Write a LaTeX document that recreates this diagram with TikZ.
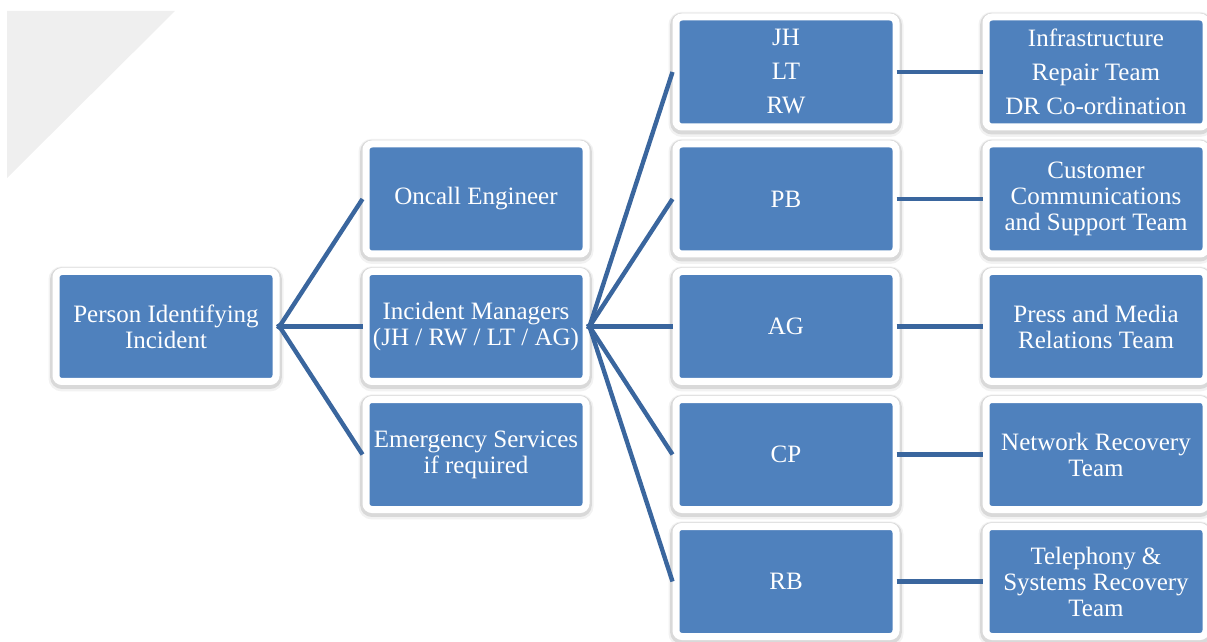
\documentclass[tikz,border=0pt]{standalone}
\usepackage{fontspec}
\setmainfont{Liberation Serif}
\definecolor{boxblue}{RGB}{79,129,189}
\definecolor{linkblue}{RGB}{58,102,158}
\definecolor{cornergray}{RGB}{239,239,239}
\begin{document}
\begin{tikzpicture}[x=0.5pt, y=-0.5pt,
  box/.style={draw=white, line width=3.5pt, fill=boxblue, rounded corners=3pt,
    minimum width=110pt, minimum height=55pt, inner sep=1pt, align=center,
    text=white, font=\fontsize{12.5}{13}\selectfont,
    preaction={draw=black, draw opacity=0.05, line width=7.5pt, transform canvas={yshift=-1.2pt}},
    preaction={draw=black, draw opacity=0.10, line width=5.8pt, transform canvas={yshift=-0.8pt}}},
  tallbox/.style={box, font=\fontsize{12.5}{17}\selectfont},
  link/.style={draw=linkblue, line width=2.2pt, shorten <=-1.5pt}]
\useasboundingbox (0,0) rectangle (1207,642);
\fill[cornergray] (7,11) -- (175,11) -- (7,178) -- cycle;
% first and second column
\node[box] (person) at (166,326.5) {Person Identifying\\Incident};
\node[box] (oncall) at (476,199) {Oncall Engineer};
\node[box] (managers) at (476,326.5) {Incident Managers\\(JH / RW / LT / AG)};
\node[box] (emergency) at (476,454.5) {Emergency Services\\if required};
% managers
\node[tallbox] (jh) at (786,72) {JH\\LT\\RW};
\node[box] (pb) at (786,199) {PB};
\node[box] (ag) at (786,326.5) {AG};
\node[box] (cp) at (786,454.5) {CP};
\node[box] (rb) at (786,581.5) {RB};
% teams
\node[tallbox] (infra) at (1096,72) {Infrastructure\\Repair Team\\DR Co-ordination};
\node[box] (comms) at (1096,199) {Customer\\Communications\\and Support Team};
\node[box] (press) at (1096,326.5) {Press and Media\\Relations Team};
\node[box] (network) at (1096,454.5) {Network Recovery\\Team};
\node[box] (telephony) at (1096,581.5) {Telephony \&\\Systems Recovery\\Team};
\draw[link] (person.east) -- (oncall.west);
\draw[link] (person.east) -- (managers.west);
\draw[link] (person.east) -- (emergency.west);
\draw[link] (managers.east) -- (jh.west);
\draw[link] (managers.east) -- (pb.west);
\draw[link] (managers.east) -- (ag.west);
\draw[link] (managers.east) -- (cp.west);
\draw[link] (managers.east) -- (rb.west);
\draw[link] (jh.east) -- (infra.west);
\draw[link] (pb.east) -- (comms.west);
\draw[link] (ag.east) -- (press.west);
\draw[link] (cp.east) -- (network.west);
\draw[link] (rb.east) -- (telephony.west);
\end{tikzpicture}
\end{document}
